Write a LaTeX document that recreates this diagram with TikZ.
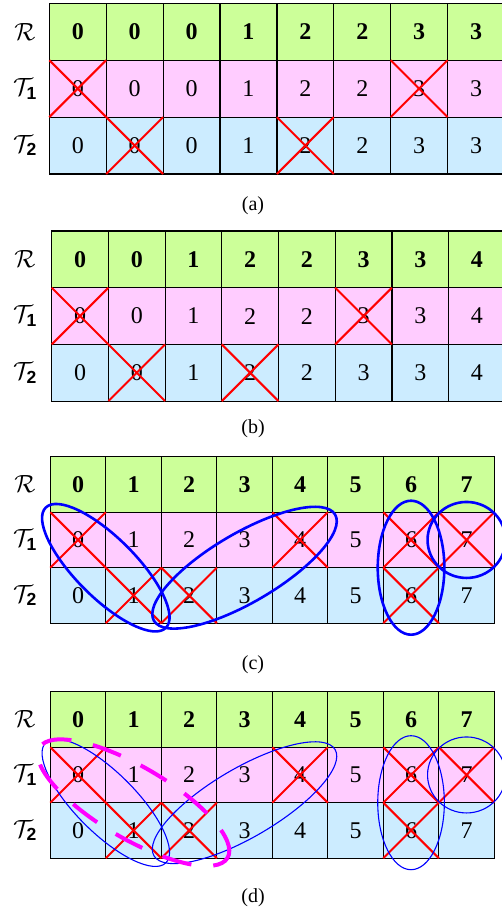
\documentclass[tikz,border=0pt]{standalone}
\usepackage{fontspec}
\setmainfont{Liberation Serif}
\setsansfont{Liberation Sans}
\usepackage{amsmath}
\definecolor{cgreen}{HTML}{CCFF99}
\definecolor{cpink}{HTML}{FFCCFF}
\definecolor{cblue}{HTML}{CCECFF}
\definecolor{ellblue}{HTML}{0000FF}
\definecolor{mag}{HTML}{FF00FF}
\tikzset{
 gridcell/.style={draw=black, line width=1.2pt, inner sep=0pt, outer sep=0pt, font=\fontsize{24}{28}\selectfont},
 rcell/.style={gridcell, fill=cgreen, font=\fontsize{24}{28}\selectfont\bfseries},
 tonecell/.style={gridcell, fill=cpink},
 ttwocell/.style={gridcell, fill=cblue},
 rowlab/.style={font=\fontsize{25}{30}\selectfont, inner sep=0pt},
 captxt/.style={font=\fontsize{20}{24}\selectfont, inner sep=0pt},
 xline/.style={draw=red, line width=2pt},
 ellthick/.style={draw=ellblue, line width=2.6pt},
 ellthin/.style={draw=ellblue, line width=1.1pt},
 magdash/.style={draw=mag, line width=4pt, dash pattern=on 30pt off 22pt},
}
% #1 name, #2 x0, #3 y0, #4 cell size, #5 R, #6 T1, #7 T2, #8 T1 crosses, #9 T2 crosses
\newcommand\mypanel[9]{%
  \foreach \v [count=\i] in {#5} {
    \node[rcell, minimum width=#4pt, minimum height=#4pt] (#1-R-\i) at ({#2+(\i-0.5)*#4}, {#3+0.5*#4}) {\v};
  }
  \foreach \v [count=\i] in {#6} {
    \node[tonecell, minimum width=#4pt, minimum height=#4pt] (#1-T1-\i) at ({#2+(\i-0.5)*#4}, {#3+1.5*#4}) {\v};
  }
  \foreach \v [count=\i] in {#7} {
    \node[ttwocell, minimum width=#4pt, minimum height=#4pt] (#1-T2-\i) at ({#2+(\i-0.5)*#4}, {#3+2.5*#4}) {\v};
  }
  \foreach \i in {#8} {
    \draw[xline] (#1-T1-\i.north west) -- (#1-T1-\i.south east) (#1-T1-\i.north east) -- (#1-T1-\i.south west);
  }
  \foreach \i in {#9} {
    \draw[xline] (#1-T2-\i.north west) -- (#1-T2-\i.south east) (#1-T2-\i.north east) -- (#1-T2-\i.south west);
  }
  \node[rowlab] (#1-lR) at (25, {#3+0.5*#4}) {$\mathcal{R}$};
  \node[rowlab] (#1-lT1) at (25, {#3+1.5*#4}) {$\mathcal{T}_{\text{\sffamily\bfseries 1}}$};
  \node[rowlab] (#1-lT2) at (25, {#3+2.5*#4}) {$\mathcal{T}_{\text{\sffamily\bfseries 2}}$};
}
\begin{document}
\begin{tikzpicture}[x=1pt, y=-1pt]
\useasboundingbox (0,0) rectangle (502,914);
% (a)
\mypanel{a}{49.3}{3.3}{56.9}{0,0,0,1,2,2,3,3}{0,0,0,1,2,2,3,3}{0,0,0,1,2,2,3,3}{1,7}{2,5}
\node[captxt] (cap-a) at (253,206) {(a)};
% (b)
\mypanel{b}{51.7}{231}{56.7}{0,0,1,2,2,3,3,4}{0,0,1,2,2,3,3,4}{0,0,1,2,2,3,3,4}{1,6}{2,4}
\node[captxt] (cap-b) at (253,429) {(b)};
% (c)
\mypanel{c}{50.3}{456.7}{55.5}{0,1,2,3,4,5,6,7}{0,1,2,3,4,5,6,7}{0,1,2,3,4,5,6,7}{1,5,7,8}{2,3,7}
\draw[ellthick, rotate around={-45:(c-T1-1.south east)}] (c-T1-1.south east) ellipse [x radius=85pt, y radius=30pt];
\draw[ellthick, rotate around={30.4:(c-T1-4.south)}] (c-T1-4.south) ellipse [x radius=105pt, y radius=34.5pt];
\draw[ellthick] (c-T1-7.south) ellipse [x radius=33.3pt, y radius=67pt];
\draw[ellthick] (c-T1-8) ellipse [x radius=39pt, y radius=38pt];
\node[captxt] (cap-c) at (253,665) {(c)};
% (d)
\mypanel{d}{50.3}{691.7}{55.5}{0,1,2,3,4,5,6,7}{0,1,2,3,4,5,6,7}{0,1,2,3,4,5,6,7}{1,5,7,8}{2,3,7}
\draw[ellthin, rotate around={-45:(d-T1-1.south east)}] (d-T1-1.south east) ellipse [x radius=85pt, y radius=30pt];
\draw[ellthin, rotate around={30.4:(d-T1-4.south)}] (d-T1-4.south) ellipse [x radius=105pt, y radius=34.5pt];
\draw[ellthin] (d-T1-7.south) ellipse [x radius=33.3pt, y radius=67pt];
\draw[ellthin] (d-T1-8) ellipse [x radius=39pt, y radius=38pt];
\draw[magdash, rotate around={-30.4:(d-T1-2.south)}] (d-T1-2.south) ellipse [x radius=109pt, y radius=36pt];
\node[captxt] (cap-d) at (253,898) {(d)};
\end{tikzpicture}
\end{document}
